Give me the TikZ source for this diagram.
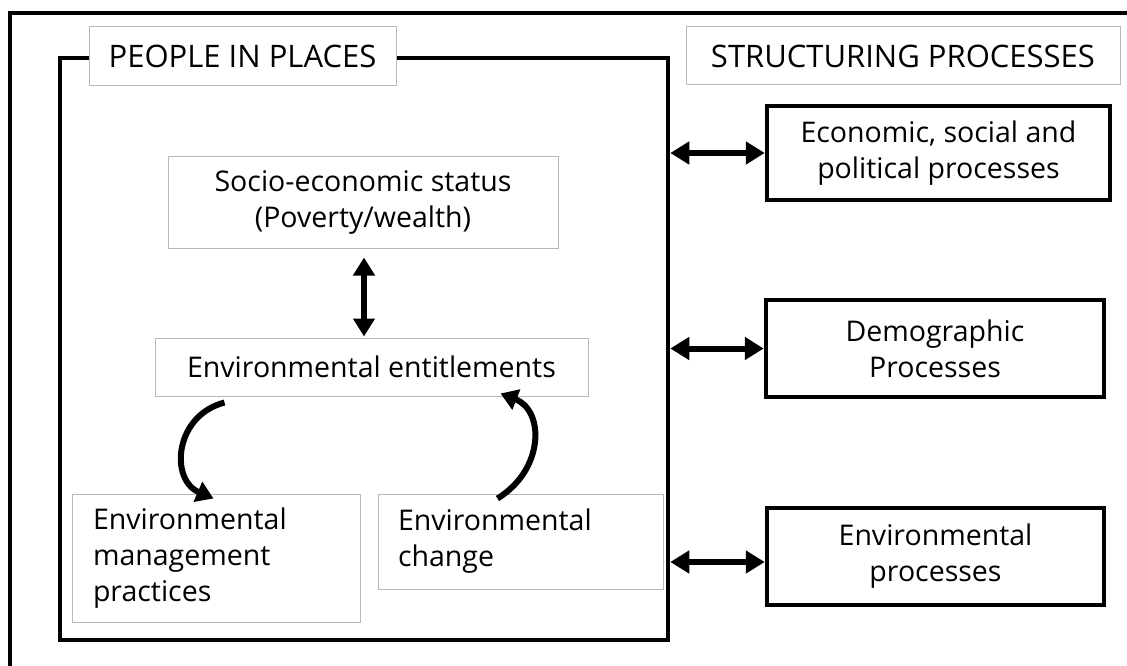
\documentclass[tikz,border=0pt]{standalone}
\usepackage{fontspec}
\setmainfont{Open Sans}
\usetikzlibrary{arrows.meta,calc}
\begin{document}
\begin{tikzpicture}[x=1pt,y=-1pt,
  every node/.style={font=\fontsize{28.5}{36}\selectfont, inner sep=0pt},
  titlefont/.style={font=\fontsize{31}{36}\selectfont},
  thickbox/.style={draw=black, line width=4.5pt, align=center},
  lightbox/.style={draw=black!28, line width=1pt, fill=white, align=center},
  dblarrow/.style={line width=6pt, {Triangle[length=19pt,width=22pt]}-{Triangle[length=19pt,width=22pt]}},
  curvearrow/.style={line width=6pt, -{Triangle[length=17pt,width=21pt]}}
]
\useasboundingbox (0,0) rectangle (1127,666);
% outer frame (only top and left visible)
\draw[line width=4.5pt] (10,670) -- (10,13) -- (1135,13);
% inner frame
\node[draw=black, line width=4.5pt, minimum width=608pt, minimum height=582pt] (frame) at (364,349) {};
% titles
\node[lightbox, titlefont, minimum width=307pt, minimum height=59pt] (people) at (242.5,56.5) {PEOPLE IN PLACES};
\node[lightbox, titlefont, minimum width=434pt, minimum height=58pt] (struct) at (903,56) {STRUCTURING PROCESSES};
% right boxes
\node[thickbox, minimum width=343pt, minimum height=94pt] (econ) at (938.5,153) {Economic, social and\\political processes};
\node[thickbox, minimum width=338pt, minimum height=97pt] (demo) at (935,348.5) {Demographic\\Processes};
\node[thickbox, minimum width=337pt, minimum height=97pt] (envp) at (935.5,556.5) {Environmental\\processes};
% inner boxes
\node[lightbox, minimum width=390pt, minimum height=91pt] (socio) at (363,202.5) {Socio-economic status\\(Poverty/wealth)};
\node[lightbox, minimum width=433pt, minimum height=58pt] (entit) at (371.5,367) {Environmental entitlements};
\node[lightbox, align=left, text width=246pt, inner xsep=21pt, minimum height=128pt] (mgmt) at (216,558) {Environmental\\management\\practices};
\node[lightbox, align=left, text width=245pt, inner xsep=20pt, minimum height=95pt] (change) at (520.5,541.5) {Environmental\\change};
% horizontal double arrows
\draw[dblarrow] (frame.east |- econ.west) -- (econ.west);
\draw[dblarrow] (frame.east |- demo.west) -- (demo.west);
\draw[dblarrow] ($(frame.east |- envp.west)+(0,5.5)$) -- ($(envp.west)+(0,5.5)$);
% vertical double arrow
\draw[line width=5.5pt, {Triangle[length=18pt,width=21pt]}-{Triangle[length=18pt,width=21pt]}]
  ($(socio.south)+(1,9)$) -- ($(entit.north)+(-7.5,-1)$);
% curved arrows
\draw[curvearrow] ($(entit.south west)+(70,6)$) .. controls ($(entit.south west)+(20,19)$) and ($(mgmt.north west)+(98,-14)$) .. ($(mgmt.north west)+(142,5)$);
\draw[curvearrow] ($(change.north west)+(120,5)$) .. controls ($(change.north west)+(167,-24)$) and ($(entit.south west)+(390,14)$) .. ($(entit.south west)+(346,-3)$);
\end{tikzpicture}
\end{document}
